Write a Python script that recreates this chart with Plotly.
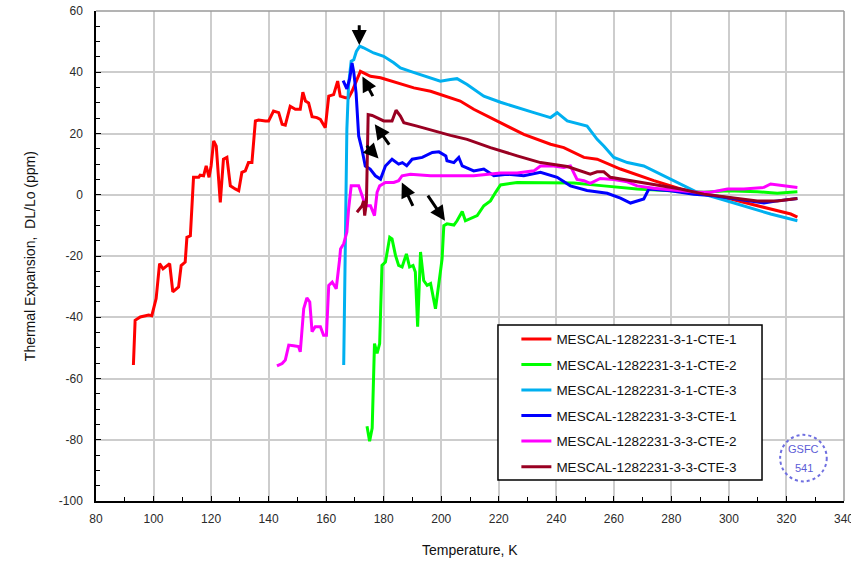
import plotly.graph_objects as go

# ---------------- data (Temperature K, DL/Lo ppm) ----------------
series_names = [
    "MESCAL-1282231-3-1-CTE-1",
    "MESCAL-1282231-3-1-CTE-2",
    "MESCAL-1282231-3-1-CTE-3",
    "MESCAL-1282231-3-3-CTE-1",
    "MESCAL-1282231-3-3-CTE-2",
    "MESCAL-1282231-3-3-CTE-3",
]
series_colors = ["#FF0000", "#00FF00", "#00B0F0", "#0000FF", "#FF00FF", "#990022"]

cte_311 = [(93.0, -55.6), (93.6, -41), (95.4, -39.9), (98.3, -39.3), (99.4, -39.5), (100.9, -33.9),
           (102.1, -22.5), (103.3, -24.2), (105.6, -22.5), (106.7, -31.7), (108.7, -30.1), (109.6, -23.1),
           (111.0, -22), (111.6, -13.9), (112.8, -13.4), (113.9, 5.7), (115.7, 5.7), (116.2, 6.4),
           (117.4, 6.2), (118.3, 9.4), (119.3, 5.7), (120.0, 9.4), (120.9, 17.6), (121.8, 15.9),
           (123.2, -2.5), (124.3, 11.6), (125.5, 12.2), (126.7, 2.9), (128.4, 1.9), (129.6, 1.3),
           (130.7, 7.3), (131.9, 7.8), (133.0, 10.5), (134.2, 10.5), (135.4, 24.1), (136.5, 24.4),
           (138.9, 24.1), (140.0, 24.1), (141.7, 27.3), (143.5, 26.8), (144.7, 23), (145.8, 22.7),
           (147.5, 28.9), (149.3, 27.9), (151.0, 27.9), (151.9, 33.5), (152.8, 30.6), (153.9, 30),
           (155.1, 25.5), (156.8, 25.2), (158.0, 24.6), (159.7, 21.9), (160.9, 32.2), (162.6, 32.7),
           (164.0, 37.1), (164.9, 32.2), (166.7, 31.7), (167.8, 31.7), (169.0, 33.8), (170.2, 36.6),
           (171.9, 40.3), (173.0, 39.8), (175.4, 38.7), (178.9, 38.2), (184.7, 36.6), (190.5, 34.9),
           (196.3, 33.8), (203.2, 31.7), (206.6, 30.6), (211.3, 27.9), (220.6, 23.5), (228.7, 19.7),
           (238.0, 16.5), (242.6, 15.4), (249.6, 12.2), (254.2, 11.6), (262.3, 8.4), (273.9, 4.6),
           (283.2, 1.9), (291.3, 0.2), (300.6, -1.4), (309.9, -3.6), (316.8, -5.2), (321.5, -6.3),
           (323.8, -7.3)]

cte_312 = [(174.2, -75.6), (175.1, -80.5), (176.0, -76.2), (176.8, -48.6), (177.7, -51.8), (178.6, -48.6),
           (179.4, -23.1), (180.6, -22), (182.1, -13.9), (182.9, -14.4), (184.1, -19.8), (185.2, -23.1),
           (186.4, -23.6), (187.9, -19.3), (189.0, -23.6), (190.2, -23.1), (191.0, -25.2), (191.8, -43.1),
           (192.8, -18.7), (193.9, -28), (195.1, -29.6), (196.3, -29), (198.0, -37.2), (198.8, -30.7),
           (199.7, -25.2), (200.3, -20.9), (200.9, -10.1), (202.0, -9.5), (204.4, -9.9), (205.5, -8.5),
           (207.3, -5.5), (208.4, -8.5), (210.1, -7.9), (212.5, -6.8), (214.8, -3.6), (217.1, -2),
           (218.9, 0.8), (220.6, 3.2), (226.4, 4), (234.5, 4), (241.5, 4), (246.1, 3.8), (256.5, 2.9),
           (268.1, 1.9), (279.7, 1.3), (291.3, 0.8), (299.5, 1.3), (309.9, 1), (316.8, 0.5), (323.8, 1)]

cte_313 = [(166.1, -55.6), (166.6, -16.6), (167.2, 21.4), (167.8, 36), (168.7, 43.6), (169.6, 44.1),
           (170.5, 46.8), (171.7, 48.5), (173.0, 48), (176.5, 46.3), (180.0, 45.2), (183.5, 43.1),
           (185.8, 41.4), (189.3, 40.3), (192.8, 39.3), (196.3, 38.2), (199.7, 37.1), (203.2, 37.6),
           (205.5, 37.9), (209.0, 36), (214.8, 32.2), (220.6, 30.2), (226.4, 28.4), (232.2, 26.8),
           (238.0, 25.2), (240.3, 26.8), (243.8, 24.1), (250.7, 22.4), (254.2, 18.1), (256.5, 15.9),
           (260.0, 12.2), (264.7, 10.5), (270.4, 9.4), (279.7, 5.1), (289.0, 0.8), (297.1, -1.4),
           (306.4, -4.1), (314.5, -6.3), (323.8, -8.5)]

cte_331 = [(165.9, 37.3), (167.2, 34.6), (168.2, 38), (169.0, 43), (169.6, 40), (170.4, 33.3),
           (171.3, 19.2), (172.4, 15), (173.6, 9.4), (175.3, 8.4), (177.1, 6.2), (178.9, 5.1),
           (180.6, 9.4), (182.9, 11.6), (185.2, 10), (186.5, 10.5), (188.0, 9.5), (189.9, 11.6),
           (193.4, 12.2), (196.9, 13.8), (199.2, 14), (201.6, 12.7), (202.0, 11.1), (204.4, 10.5),
           (206.1, 12.2), (207.3, 9.4), (211.3, 7.8), (214.8, 8.4), (218.3, 6.2), (222.9, 6.7),
           (228.7, 6.2), (234.5, 7.3), (240.3, 5.7), (244.9, 2.9), (250.7, 1.4), (257.7, 0.5),
           (262.3, -1.1), (265.8, -2.7), (270.4, -1.4), (272.2, 1.9), (279.7, 1.3), (287.8, 0.2),
           (294.8, -0.3), (302.9, -1.4), (312.2, -2.7), (316.8, -2), (323.8, -1.2)]

cte_332 = [(142.9, -55.9), (144.7, -55.1), (145.8, -54), (147.0, -49.1), (148.7, -49.3), (150.4, -49.6),
           (151.0, -51.3), (152.2, -37.2), (153.3, -33.7), (154.3, -35), (155.1, -44.7), (156.2, -43.1),
           (158.0, -43.1), (159.1, -45.9), (160.1, -45.9), (160.9, -29.6), (162.1, -28.5), (163.5, -30.7),
           (164.7, -20.9), (165.0, -17.7), (166.1, -16), (167.2, -12.2), (167.8, -4.7), (168.7, 2.9),
           (169.6, 2.9), (171.3, 2.9), (172.5, -0.3), (173.6, -3.6), (175.4, -3.6), (176.8, -6.8),
           (177.7, 0.8), (178.6, 2.9), (180.6, 4), (183.5, 4), (185.2, 4.6), (186.4, 6.2), (189.3, 6.7),
           (196.3, 6.2), (203.2, 6.2), (211.3, 6.2), (220.6, 7.1), (226.4, 7.1), (232.2, 7.8),
           (234.5, 9.4), (239.1, 9.4), (242.6, 8.9), (244.9, 9.4), (247.2, 5), (249.6, 4.6),
           (251.8, 3.7), (255.3, 5.3), (260.0, 5), (264.7, 4.2), (268.1, 2.9), (273.9, 2.1),
           (282.0, 1.3), (289.0, 0.8), (293.6, 0.8), (299.5, 1.9), (305.2, 1.9), (312.2, 2.4),
           (314.5, 3.5), (320.3, 2.9), (323.8, 2.4)]

cte_333 = [(170.7, -5.7), (172.5, -3.6), (173.0, -2), (173.4, -6.8), (174.0, -2.5), (174.6, 26.2),
           (176.0, 25.9), (177.7, 25.2), (180.0, 24.1), (182.9, 24.1), (184.3, 27.6), (185.8, 25.7),
           (187.0, 23.5), (191.6, 22.4), (197.4, 20.8), (203.2, 19.4), (209.0, 18.1), (217.1, 15.4),
           (226.4, 12.7), (234.5, 10.5), (243.8, 9.2), (248.4, 7.8), (251.8, 6.7), (254.2, 7.5),
           (256.5, 7.5), (258.8, 5.7), (265.8, 4.6), (273.9, 3.5), (283.2, 1.9), (291.3, 0.2),
           (300.6, -0.8), (309.9, -2), (316.8, -2), (323.8, -1.2)]

series_data = [cte_311, cte_312, cte_313, cte_331, cte_332, cte_333]

x_tick_vals = [80, 100, 120, 140, 160, 180, 200, 220, 240, 260, 280, 300, 320, 340]
x_tick_text = ["80", "100", "120", "140", "160", "180", "200", "220", "240", "260", "280", "300", "320", "340"]
y_tick_vals = [-100, -80, -60, -40, -20, 0, 20, 40, 60]
y_tick_text = ["-100", "-80", "-60", "-40", "-20", "0", "20", "40", "60"]

# arrows: (head T, head ppm, tail T, tail ppm)
arrow_heads_tails = [
    (171.5, 48.9, 171.5, 55.8),
    (172.6, 38.6, 176.5, 31.7),
    (176.9, 23.0, 182.3, 15.9),
    (178.2, 11.8, 173.6, 16.5),
    (186.3, 4.0, 190.4, -4.1),
    (201.3, -8.5, 195.0, 0.2),
]

FONT = "Arial, Liberation Sans, sans-serif"

fig = go.Figure()
for i in [0, 1, 2, 3, 4, 5]:
    pts = series_data[i]
    fig.add_trace(go.Scatter(
        x=[p[0] for p in pts], y=[p[1] for p in pts], mode="lines",
        name=series_names[i], legendgroup=f"g{i}",
        line=dict(color=series_colors[i], width=3),
    ))

for hx, hy, tx, ty in arrow_heads_tails:
    fig.add_annotation(x=hx, y=hy, ax=tx, ay=ty, xref="x", yref="y", axref="x", ayref="y",
                       text="", showarrow=True, arrowhead=2, arrowsize=1.0, arrowwidth=3,
                       arrowcolor="black")

# frame top / right (gray)
fig.add_shape(type="line", xref="paper", yref="paper", x0=0, x1=1, y0=1, y1=1,
              line=dict(color="#9a9a9a", width=1.5))
fig.add_shape(type="line", xref="paper", yref="paper", x0=1, x1=1, y0=0, y1=1,
              line=dict(color="#9a9a9a", width=1.5))

# legend box
fig.add_shape(type="rect", xref="paper", yref="paper", x0=0.5374, x1=0.8904, y0=0.0429, y1=0.3592,
              fillcolor="white", line=dict(color="black", width=1.5), layer="above")

# GSFC logo
fig.add_shape(type="circle", xref="x", yref="y", x0=317.8, x1=334.0, y0=-93.6, y1=-78.4,
              line=dict(color="#6f6fe0", width=2, dash="dot"), layer="above")
fig.add_annotation(x=325.9, y=-83.0, xref="x", yref="y", text="GSFC", showarrow=False,
                   font=dict(family=FONT, size=11, color="#5c5cd6"))
fig.add_annotation(x=326.2, y=-89.3, xref="x", yref="y", text="541", showarrow=False,
                   font=dict(family=FONT, size=11, color="#5c5cd6"))

# axis titles
fig.add_annotation(x=0.5, y=-0.101, xref="paper", yref="paper", yanchor="middle",
                   text="Temperature, K", showarrow=False,
                   font=dict(family=FONT, size=14, color="#111"))
fig.add_annotation(x=-0.088, y=0.5, xref="paper", yref="paper", xanchor="center", yanchor="middle",
                   text="Thermal Expansion,  DL/Lo (ppm)", textangle=-90, showarrow=False,
                   font=dict(family=FONT, size=14, color="#111"))

axis_common = dict(
    showgrid=True, gridcolor="#cdcdcd", gridwidth=1.5,
    showline=True, linecolor="black", linewidth=1.5,
    ticks="inside", ticklen=5, tickcolor="black", tickwidth=1,
    zeroline=False, automargin=False,
    tickfont=dict(family=FONT, size=12, color="#2a2a2a"),
)
fig.update_xaxes(range=[80, 340], tickvals=x_tick_vals, ticktext=x_tick_text,
                 minor=dict(dtick=10, tick0=80, ticks="inside", ticklen=4, tickcolor="black", showgrid=False),
                 ticklabelstandoff=6, ticklabeloverflow="allow", **axis_common)
fig.update_yaxes(range=[-100, 60], tickvals=y_tick_vals, ticktext=y_tick_text,
                 minor=dict(dtick=5, tick0=0, ticks="inside", ticklen=4, tickcolor="black", showgrid=False),
                 ticklabelstandoff=9, **axis_common)

fig.update_layout(
    width=851, height=564,
    margin=dict(l=96, r=7, t=11, b=63, autoexpand=False),
    paper_bgcolor="white", plot_bgcolor="white",
    showlegend=True,
    legend=dict(x=0.562, y=0.362, xanchor="left", yanchor="top",
                bgcolor="rgba(0,0,0,0)", borderwidth=0, tracegroupgap=5,
                font=dict(family=FONT, size=13.5, color="#111"), itemwidth=30),
)

fig.write_html("out.html", config={"displayModeBar": False},
               post_script="document.body.style.margin='0px';document.body.style.overflow='hidden';")
